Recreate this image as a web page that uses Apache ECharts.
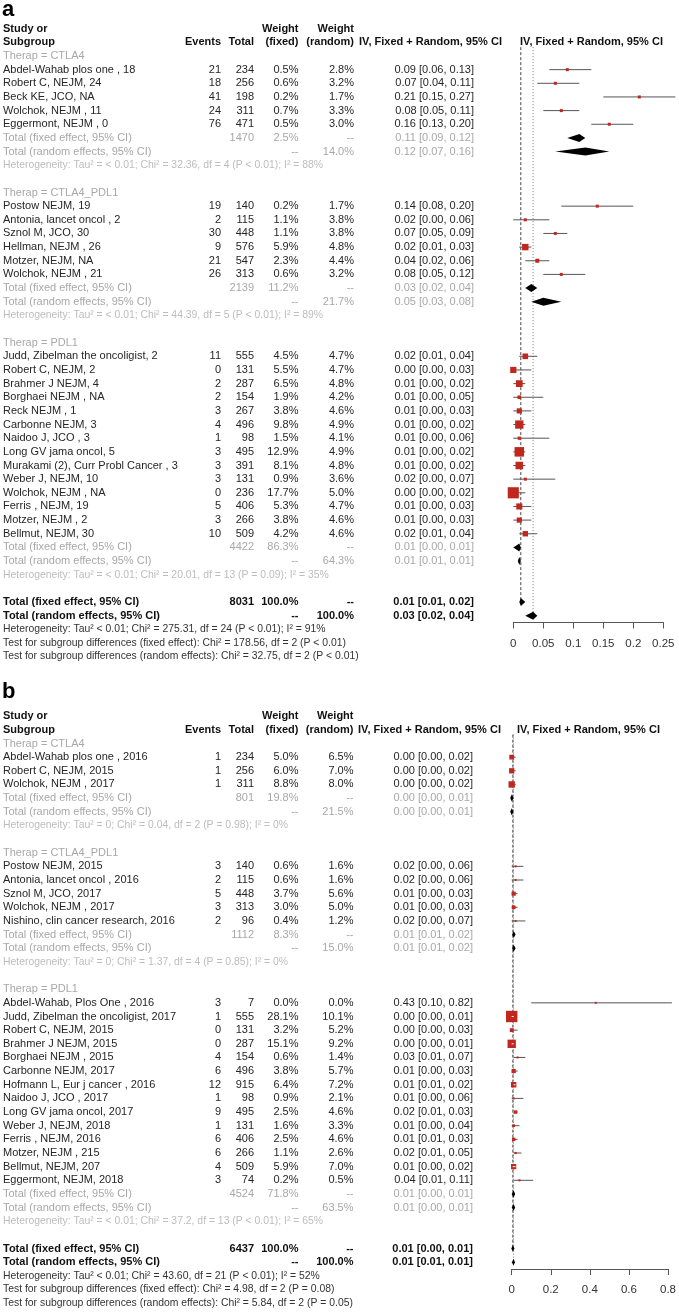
<!DOCTYPE html>
<html><head><meta charset="utf-8">
<script src="https://cdn.jsdelivr.net/npm/echarts@6/dist/echarts.min.js"></script>
<style>html,body{margin:0;padding:0;background:#fff}#c{width:679px;height:1312px}</style>
</head><body><div id="c"></div>
<script>
// ---------------- Panel a data ----------------
const aGroups = ['CTLA4', 'CTLA4_PDL1', 'PDL1'];
const aGroupSizes = [5, 6, 14];
const aStudies = [
  'Abdel-Wahab plos one , 18', 'Robert C, NEJM, 24', 'Beck KE, JCO, NA', 'Wolchok, NEJM , 11', 'Eggermont, NEJM , 0',
  'Postow NEJM, 19', 'Antonia, lancet oncol , 2', 'Sznol M, JCO, 30', 'Hellman, NEJM , 26', 'Motzer, NEJM, NA', 'Wolchok, NEJM , 21',
  'Judd, Zibelman the oncoligist, 2', 'Robert C, NEJM, 2', 'Brahmer J NEJM, 4', 'Borghaei NEJM , NA', 'Reck NEJM , 1',
  'Carbonne NEJM, 3', 'Naidoo J, JCO , 3', 'Long GV jama oncol, 5', 'Murakami (2), Curr Probl Cancer , 3', 'Weber J, NEJM, 10',
  'Wolchok, NEJM , NA', 'Ferris , NEJM, 19', 'Motzer, NEJM , 2', 'Bellmut, NEJM, 30'
];
const aEvents = [21, 18, 41, 24, 76, 19, 2, 30, 9, 21, 26, 11, 0, 2, 2, 3, 4, 1, 3, 3, 3, 0, 5, 3, 10];
const aTotals = [234, 256, 198, 311, 471, 140, 115, 448, 576, 547, 313, 555, 131, 287, 154, 267, 496, 98, 495, 391, 131, 236, 406, 266, 509];
const aWFixed = [0.5, 0.6, 0.2, 0.7, 0.5, 0.2, 1.1, 1.1, 5.9, 2.3, 0.6, 4.5, 5.5, 6.5, 1.9, 3.8, 9.8, 1.5, 12.9, 8.1, 0.9, 17.7, 5.3, 3.8, 4.2];
const aWRandom = [2.8, 3.2, 1.7, 3.3, 3.0, 1.7, 3.8, 3.8, 4.8, 4.4, 3.2, 4.7, 4.7, 4.8, 4.2, 4.6, 4.9, 4.1, 4.9, 4.8, 3.6, 5.0, 4.7, 4.6, 4.6];
const aEst = [0.09, 0.07, 0.21, 0.08, 0.16, 0.14, 0.02, 0.07, 0.02, 0.04, 0.08, 0.02, 0.00, 0.01, 0.01, 0.01, 0.01, 0.01, 0.01, 0.01, 0.02, 0.00, 0.01, 0.01, 0.02];
const aLo = [0.06, 0.04, 0.15, 0.05, 0.13, 0.08, 0.00, 0.05, 0.01, 0.02, 0.05, 0.01, 0.00, 0.00, 0.00, 0.00, 0.00, 0.00, 0.00, 0.00, 0.00, 0.00, 0.00, 0.00, 0.01];
const aHi = [0.13, 0.11, 0.27, 0.11, 0.20, 0.20, 0.06, 0.09, 0.03, 0.06, 0.12, 0.04, 0.03, 0.02, 0.05, 0.03, 0.02, 0.06, 0.02, 0.02, 0.07, 0.02, 0.03, 0.03, 0.04];
const aSubTotal = [1470, 2139, 4422];
const aSubWFixed = [2.5, 11.2, 86.3];
const aSubWRandom = [14.0, 21.7, 64.3];
const aSubFixed = [[0.11, 0.09, 0.12], [0.03, 0.02, 0.04], [0.01, 0.00, 0.01]];
const aSubRandom = [[0.12, 0.07, 0.16], [0.05, 0.03, 0.08], [0.01, 0.01, 0.01]];
const aSubHet = [
  'Heterogeneity: Tau² = < 0.01; Chi² = 32.36, df = 4 (P < 0.01); I² = 88%',
  'Heterogeneity: Tau² = < 0.01; Chi² = 44.39, df = 5 (P < 0.01); I² = 89%',
  'Heterogeneity: Tau² = < 0.01; Chi² = 20.01, df = 13 (P = 0.09); I² = 35%'
];
const aTotalN = 8031;
const aOverallW = [100.0, 100.0];
const aOverallFixed = [0.0125, 0.01, 0.02];
const aOverallRandom = [0.033, 0.02, 0.04];
const aOverallNotes = [
  'Heterogeneity: Tau² < 0.01; Chi² = 275.31, df = 24 (P < 0.01); I² = 91%',
  'Test for subgroup differences (fixed effect): Chi² = 178.56, df = 2 (P < 0.01)',
  'Test for subgroup differences (random effects): Chi² = 32.75, df = 2 (P < 0.01)'
];
const aTicks = [0, 0.25, 0.05];

// ---------------- Panel b data ----------------
const bGroups = ['CTLA4', 'CTLA4_PDL1', 'PDL1'];
const bGroupSizes = [3, 5, 14];
const bStudies = [
  'Abdel-Wahab plos one , 2016', 'Robert C, NEJM, 2015', 'Wolchok, NEJM , 2017',
  'Postow NEJM, 2015', 'Antonia, lancet oncol , 2016', 'Sznol M, JCO, 2017', 'Wolchok, NEJM , 2017', 'Nishino, clin cancer research, 2016',
  'Abdel-Wahab, Plos One , 2016', 'Judd, Zibelman the oncoligist, 2017', 'Robert C, NEJM, 2015', 'Brahmer J NEJM, 2015',
  'Borghaei NEJM , 2015', 'Carbonne NEJM, 2017', 'Hofmann L, Eur j cancer , 2016', 'Naidoo J, JCO , 2017', 'Long GV jama oncol, 2017',
  'Weber J, NEJM, 2018', 'Ferris , NEJM, 2016', 'Motzer, NEJM , 215', 'Bellmut, NEJM, 207', 'Eggermont, NEJM, 2018'
];
const bEvents = [1, 1, 1, 3, 2, 5, 3, 2, 3, 1, 0, 0, 4, 6, 12, 1, 9, 1, 6, 6, 4, 3];
const bTotals = [234, 256, 311, 140, 115, 448, 313, 96, 7, 555, 131, 287, 154, 496, 915, 98, 495, 131, 406, 266, 509, 74];
const bWFixed = [5.0, 6.0, 8.8, 0.6, 0.6, 3.7, 3.0, 0.4, 0.0, 28.1, 3.2, 15.1, 0.6, 3.8, 6.4, 0.9, 2.5, 1.6, 2.5, 1.1, 5.9, 0.2];
const bWRandom = [6.5, 7.0, 8.0, 1.6, 1.6, 5.6, 5.0, 1.2, 0.0, 10.1, 5.2, 9.2, 1.4, 5.7, 7.2, 2.1, 4.6, 3.3, 4.6, 2.6, 7.0, 0.5];
const bEst = [0.00, 0.00, 0.00, 0.02, 0.02, 0.01, 0.01, 0.02, 0.43, 0.00, 0.00, 0.00, 0.03, 0.01, 0.01, 0.01, 0.02, 0.01, 0.01, 0.02, 0.01, 0.04];
const bLo = [0.00, 0.00, 0.00, 0.00, 0.00, 0.00, 0.00, 0.00, 0.10, 0.00, 0.00, 0.00, 0.01, 0.00, 0.01, 0.00, 0.01, 0.00, 0.01, 0.01, 0.00, 0.01];
const bHi = [0.02, 0.02, 0.02, 0.06, 0.06, 0.03, 0.03, 0.07, 0.82, 0.01, 0.03, 0.01, 0.07, 0.03, 0.02, 0.06, 0.03, 0.04, 0.03, 0.05, 0.02, 0.11];
const bSubTotal = [801, 1112, 4524];
const bSubWFixed = [19.8, 8.3, 71.8];
const bSubWRandom = [21.5, 15.0, 63.5];
const bSubFixed = [[0.00, 0.00, 0.01], [0.01, 0.01, 0.02], [0.01, 0.00, 0.01]];
const bSubRandom = [[0.00, 0.00, 0.01], [0.01, 0.01, 0.02], [0.01, 0.00, 0.01]];
const bSubHet = [
  'Heterogeneity: Tau² = 0; Chi² = 0.04, df = 2 (P = 0.98); I² = 0%',
  'Heterogeneity: Tau² = 0; Chi² = 1.37, df = 4 (P = 0.85); I² = 0%',
  'Heterogeneity: Tau² = < 0.01; Chi² = 37.2, df = 13 (P < 0.01); I² = 65%'
];
const bTotalN = 6437;
const bOverallW = [100.0, 100.0];
const bOverallFixed = [0.006, 0.00, 0.01];
const bOverallRandom = [0.009, 0.01, 0.01];
const bOverallNotes = [
  'Heterogeneity: Tau² < 0.01; Chi² = 43.60, df = 21 (P < 0.01); I² = 52%',
  'Test for subgroup differences (fixed effect): Chi² = 4.98, df = 2 (P = 0.08)',
  'Test for subgroup differences (random effects): Chi² = 5.84, df = 2 (P = 0.05)'
];
const bTicks = [0, 0.8, 0.2];

// ---------------- rendering ----------------
const FONT = '"Liberation Sans", Arial, Helvetica, sans-serif';
const RED = '#c0281f';
const DARK = '#262626', GREY = '#a8a8a8', HET = '#bdbdbd', BLACK = '#111';
const NOTE_SIZE = 10.4;

function build(P) {
  const texts = [], marks = [];
  const C = P.cols;
  const T = (row, x, align, text, color, size, weight) =>
    texts.push({ row, x, align, text: String(text), color, size: size || 11, weight: weight || 'normal' });
  const fW = v => v.toFixed(1) + '%';
  const fE = a => a[0].toFixed(2) + ' [' + a[1].toFixed(2) + ', ' + a[2].toFixed(2) + ']';
  T(-2, C.label, 'left', 'Study or', BLACK, 11, 'bold');
  T(-1, C.label, 'left', 'Subgroup', BLACK, 11, 'bold');
  T(-1, C.events, 'right', 'Events', BLACK, 11, 'bold');
  T(-1, C.total, 'right', 'Total', BLACK, 11, 'bold');
  T(-2, C.wf, 'right', 'Weight', BLACK, 11, 'bold');
  T(-1, C.wf, 'right', '(fixed)', BLACK, 11, 'bold');
  T(-2, C.wr, 'right', 'Weight', BLACK, 11, 'bold');
  T(-1, C.wr, 'right', '(random)', BLACK, 11, 'bold');
  T(-1, C.ivHead, 'left', 'IV, Fixed + Random, 95% CI', BLACK, 11, 'bold');
  T(-1, C.plotHead, 'left', 'IV, Fixed + Random, 95% CI', BLACK, 11, 'bold');
  let r = 0, s = 0;
  P.groups.forEach((g, gi) => {
    T(r, C.label, 'left', 'Therap = ' + g, GREY); r++;
    for (let k = 0; k < P.sizes[gi]; k++, s++, r++) {
      T(r, C.label, 'left', P.studies[s], DARK);
      T(r, C.events, 'right', P.events[s], DARK);
      T(r, C.total, 'right', P.totals[s], DARK);
      T(r, C.wf, 'right', fW(P.wf[s]), DARK);
      T(r, C.wr, 'right', fW(P.wr[s]), DARK);
      T(r, C.eff, 'right', fE([P.est[s], P.lo[s], P.hi[s]]), DARK);
      marks.push({ kind: 'sq', row: r, est: P.est[s], lo: P.lo[s], hi: P.hi[s], w: P.wf[s] });
    }
    const f = P.subFixed[gi], q = P.subRandom[gi];
    T(r, C.label, 'left', 'Total (fixed effect, 95% CI)', GREY);
    T(r, C.total, 'right', P.subTotal[gi], GREY);
    T(r, C.wf, 'right', fW(P.subWF[gi]), GREY);
    T(r, C.wr, 'right', '--', GREY);
    T(r, C.eff, 'right', fE(f), GREY);
    marks.push({ kind: 'dia', row: r, est: f[0], lo: f[1], hi: f[2] }); r++;
    T(r, C.label, 'left', 'Total (random effects, 95% CI)', GREY);
    T(r, C.wf, 'right', '--', GREY);
    T(r, C.wr, 'right', fW(P.subWR[gi]), GREY);
    T(r, C.eff, 'right', fE(q), GREY);
    marks.push({ kind: 'dia', row: r, est: q[0], lo: q[1], hi: q[2] }); r++;
    T(r, C.label, 'left', P.subHet[gi], HET, NOTE_SIZE); r++;
    r++;
  });
  const rf = r;
  T(r, C.label, 'left', 'Total (fixed effect, 95% CI)', BLACK, 11, 'bold');
  T(r, C.total, 'right', P.totalN, BLACK, 11, 'bold');
  T(r, C.wf, 'right', fW(P.overallW[0]), BLACK, 11, 'bold');
  T(r, C.wr, 'right', '--', BLACK, 11, 'bold');
  T(r, C.eff, 'right', fE(P.overallFixed), BLACK, 11, 'bold');
  marks.push({ kind: 'dia', row: r, est: P.overallFixed[0], lo: P.overallFixed[1], hi: P.overallFixed[2] }); r++;
  const rr = r;
  T(r, C.label, 'left', 'Total (random effects, 95% CI)', BLACK, 11, 'bold');
  T(r, C.wf, 'right', '--', BLACK, 11, 'bold');
  T(r, C.wr, 'right', fW(P.overallW[1]), BLACK, 11, 'bold');
  T(r, C.eff, 'right', fE(P.overallRandom), BLACK, 11, 'bold');
  marks.push({ kind: 'dia', row: r, est: P.overallRandom[0], lo: P.overallRandom[1], hi: P.overallRandom[2] }); r++;
  P.notes.forEach(n => { T(r, C.label, 'left', n, '#333', NOTE_SIZE); r++; });
  const refs = [
    { est: P.overallFixed[0], r0: -0.65, r1: rf, dash: [3, 2], color: '#444' },
    { est: P.overallRandom[0], r0: -0.65, r1: rr, dash: [1, 2], color: '#777' }
  ];
  return { texts, marks, refs };
}

const panelA = build({
  groups: aGroups, sizes: aGroupSizes, studies: aStudies, events: aEvents, totals: aTotals,
  wf: aWFixed, wr: aWRandom, est: aEst, lo: aLo, hi: aHi,
  subTotal: aSubTotal, subWF: aSubWFixed, subWR: aSubWRandom, subFixed: aSubFixed, subRandom: aSubRandom, subHet: aSubHet,
  totalN: aTotalN, overallW: aOverallW, overallFixed: aOverallFixed, overallRandom: aOverallRandom, notes: aOverallNotes,
  cols: { label: 3, events: 221, total: 254, wf: 298.5, wr: 354, eff: 474, ivHead: 359, plotHead: 520 }
});
const panelB = build({
  groups: bGroups, sizes: bGroupSizes, studies: bStudies, events: bEvents, totals: bTotals,
  wf: bWFixed, wr: bWRandom, est: bEst, lo: bLo, hi: bHi,
  subTotal: bSubTotal, subWF: bSubWFixed, subWR: bSubWRandom, subFixed: bSubFixed, subRandom: bSubRandom, subHet: bSubHet,
  totalN: bTotalN, overallW: bOverallW, overallFixed: bOverallFixed, overallRandom: bOverallRandom, notes: bOverallNotes,
  cols: { label: 3, events: 221, total: 254, wf: 298.5, wr: 353.5, eff: 473, ivHead: 358, plotHead: 517 }
});

function seriesFor(panel, idx, k, minSide, hh) {
  const textSeries = {
    type: 'custom', xAxisIndex: idx, yAxisIndex: idx, clip: false, silent: true, z: 5,
    data: panel.texts.map((t, i) => [0, t.row, i]),
    renderItem: (params, api) => {
      const it = panel.texts[api.value(2)];
      const y = api.coord([0, api.value(1)])[1];
      return { type: 'text', x: it.x, y: y,
        style: { text: it.text, fill: it.color, font: it.weight + ' ' + it.size + 'px ' + FONT, align: it.align, verticalAlign: 'middle' } };
    }
  };
  const refSeries = {
    type: 'custom', xAxisIndex: idx, yAxisIndex: idx, clip: false, silent: true, z: 2,
    data: panel.refs.map((f, i) => [f.est, f.r0, i]),
    renderItem: (params, api) => {
      const f = panel.refs[api.value(2)];
      const a = api.coord([f.est, f.r0]), b = api.coord([f.est, f.r1]);
      return { type: 'line', shape: { x1: a[0], y1: a[1], x2: b[0], y2: b[1] },
        style: { stroke: f.color, lineWidth: 1, lineDash: f.dash } };
    }
  };
  const markSeries = {
    type: 'custom', xAxisIndex: idx, yAxisIndex: idx, clip: false, silent: true, z: 3,
    data: panel.marks.map((m, i) => [m.est, m.row, i]),
    renderItem: (params, api) => {
      const m = panel.marks[api.value(2)];
      const c = api.coord([m.est, m.row]), l = api.coord([m.lo, m.row]), h = api.coord([m.hi, m.row]);
      if (m.kind === 'sq') {
        const side = Math.max(minSide, k * Math.sqrt(m.w));
        const ch = [
          { type: 'line', shape: { x1: l[0], y1: c[1], x2: h[0], y2: c[1] }, style: { stroke: '#555', lineWidth: 1 } },
          { type: 'rect', shape: { x: c[0] - side / 2, y: c[1] - side / 2, width: side, height: side }, style: { fill: RED } }
        ];
        if (l[0] >= c[0] - side / 2 && h[0] <= c[0] + side / 2 && side > 5) {
          ch.push({ type: 'line', shape: { x1: Math.max(l[0], c[0] - 1), y1: c[1], x2: Math.max(h[0], c[0] + 1), y2: c[1] }, style: { stroke: '#fff', lineWidth: 1 } });
        }
        return { type: 'group', children: ch };
      }
      const x1 = Math.min(l[0], c[0] - 1.5), x2 = Math.max(h[0], c[0] + 1.5);
      return { type: 'polygon', shape: { points: [[x1, c[1]], [c[0], c[1] - hh], [x2, c[1]], [c[0], c[1] + hh]] }, style: { fill: '#000' } };
    }
  };
  return [refSeries, markSeries, textSeries];
}

function xAxisFor(idx, t) {
  return {
    type: 'value', gridIndex: idx, min: t[0], max: t[1], interval: t[2], position: 'bottom',
    axisLine: { show: true, onZero: false, lineStyle: { color: '#555', width: 1 } },
    axisTick: { show: true, inside: false, length: 6, lineStyle: { color: '#555' } },
    axisLabel: { color: '#333', fontSize: 11.5, fontFamily: FONT, margin: 15 },
    splitLine: { show: false }
  };
}
function yAxisFor(idx, mn, mx) {
  return { type: 'value', gridIndex: idx, inverse: true, min: mn, max: mx, show: false, splitLine: { show: false } };
}

const chart = echarts.init(document.getElementById('c'), null, { renderer: 'canvas' });
chart.setOption({
  animation: false,
  backgroundColor: '#fff',
  grid: [
    { left: 513.3, width: 150, top: 56 - 4 * 13.65, height: 45.5 * 13.65 },
    { left: 511.7, width: 157.6, top: 743.5 - 4 * 13.65, height: 42.5 * 13.65 }
  ],
  xAxis: [xAxisFor(0, aTicks), xAxisFor(1, bTicks)],
  yAxis: [yAxisFor(0, -4, 41.5), yAxisFor(1, -4, 38.5)],
  graphic: [
    { type: 'text', left: 2, top: -1, style: { text: 'a', font: 'bold 22px ' + FONT, fill: '#000' } },
    { type: 'text', left: 2, top: 681, style: { text: 'b', font: 'bold 22px ' + FONT, fill: '#000' } }
  ],
  series: [].concat(seriesFor(panelA, 0, 2.65, 3, 4), seriesFor(panelB, 1, 2.15, 2, 3.5))
});
</script>
</body></html>
